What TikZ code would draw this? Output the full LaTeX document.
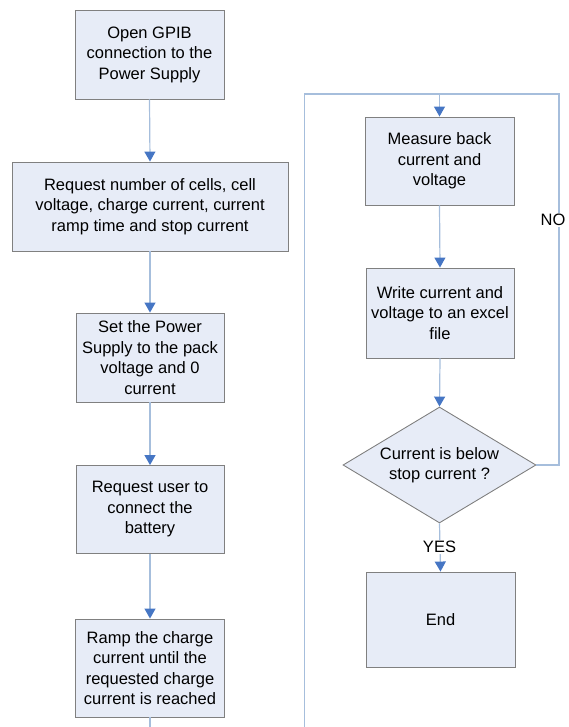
\documentclass[tikz,border=0pt]{standalone}
\usepackage{fontspec}
\setmainfont{Liberation Sans}
\usetikzlibrary{shapes.geometric,arrows.meta}
\definecolor{boxfill}{RGB}{231,236,247}
\definecolor{boxline}{RGB}{128,128,128}
\definecolor{conn}{RGB}{166,190,220}
\definecolor{tipc}{RGB}{70,118,196}
\tikzset{
  stepbox/.style={draw=boxline, fill=boxfill, line width=0.9pt, rectangle, inner sep=0pt,
    align=center, font=\fontsize{16.5}{20.5}\selectfont},
  decide/.style={draw=boxline, fill=boxfill, line width=0.9pt, diamond, inner sep=0pt,
    align=center, font=\fontsize{16.5}{20.5}\selectfont},
  link/.style={draw=conn, line width=1.2pt},
  arr/.style={link, -{Triangle[width=11pt,length=10pt,fill=tipc,color=tipc]}},
  lbl/.style={fill=white, inner sep=1pt, font=\fontsize{16.5}{20}\selectfont},
}
\begin{document}
\begin{tikzpicture}[x=1pt,y=-1pt]
\path[use as bounding box, clip] (0,0) rectangle (569,727);
% left column
\node[stepbox, minimum width=149pt, minimum height=89pt] (b1) at (149.5,54.5) {Open GPIB\\connection to the\\Power Supply};
\node[stepbox, minimum width=276pt, minimum height=89pt] (b2) at (150,206.5) {Request number of cells, cell\\voltage, charge current, current\\ramp time and stop current};
\node[stepbox, minimum width=148pt, minimum height=89pt] (b3) at (150,357.5) {Set the Power\\Supply to the pack\\voltage and 0\\current};
\node[stepbox, minimum width=148pt, minimum height=88pt] (b4) at (150,509.5) {Request user to\\connect the\\battery};
\node[stepbox, minimum width=149pt, minimum height=98pt] (b5) at (150,668) {Ramp the charge\\current until the\\requested charge\\current is reached};
% right column
\node[stepbox, minimum width=149pt, minimum height=88pt] (m) at (439.5,161) {Measure back\\current and\\voltage};
\node[stepbox, minimum width=148pt, minimum height=90pt] (w) at (440,313) {Write current and\\voltage to an excel\\file};
\node[decide, minimum width=193pt, minimum height=116pt, shape aspect=1.66] (d) at (439.5,465) {Current is below\\stop current ?};
\node[stepbox, minimum width=149pt, minimum height=95pt] (e) at (440.5,619.5) {End};
% coordinates
\coordinate (botL) at (150,727);
\coordinate (botR) at (304.5,727);
\coordinate (topL) at (304.5,94);
\coordinate (topM) at (439.5,94);
\coordinate (topR) at (559,94);
\coordinate (dR) at (559,465);
% connectors
\draw[arr] (b1.south) -- (b2.north);
\draw[arr] (b2.south) -- (b3.north);
\draw[arr] (b3.south) -- (b4.north);
\draw[arr] (b4.south) -- (b5.north);
\draw[link] (b5.south) -- (botL);
\draw[link] (botR) -- (topL) -- (topM);
\draw[arr] (topM) -- (m.north);
\draw[arr] (m.south) -- (w.north);
\draw[arr] (w.south) -- (d.north);
\draw[link] (d.east) -- (dR) -- (topR) -- (topM);
\draw[arr] (d.south) -- (e.north);
\node[lbl] (no) at (553,220) {NO};
\node[lbl] (yes) at (439.5,547) {YES};
\end{tikzpicture}
\end{document}
